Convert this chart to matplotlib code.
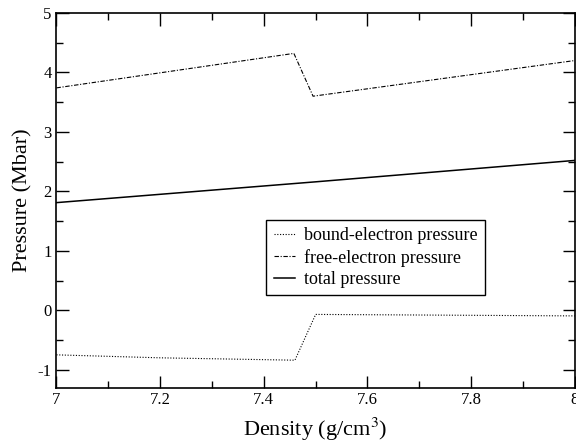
import numpy as np
import matplotlib.pyplot as plt
from matplotlib.ticker import MultipleLocator

plt.rcParams['font.family'] = ['Liberation Serif', 'DejaVu Serif']
plt.rcParams['mathtext.fontset'] = 'stix'

# data
dens_bound = [7.0, 7.2, 7.46, 7.5, 8.0]
p_bound = [-0.75, -0.80, -0.84, -0.07, -0.095]

dens_free = [7.0, 7.458, 7.495, 8.0]
p_free = [3.74, 4.32, 3.60, 4.20]

dens_total = [7.0, 7.5, 8.0]
p_total = [1.81, 2.16, 2.52]

fig = plt.figure(figsize=(5.76, 4.47), dpi=100)
ax = fig.add_axes([0.098, 0.133, 0.9, 0.838])

ax.plot(dens_bound, p_bound, color='black', lw=0.8, linestyle=(0, (1, 1.5)),
        label='bound-electron pressure')
ax.plot(dens_free, p_free, color='black', lw=0.8, linestyle=(0, (4, 1.5, 1, 1.5)),
        label='free-electron pressure')
ax.plot(dens_total, p_total, color='black', lw=1.1, label='total pressure')

ax.set_xlim(7, 8)
ax.set_ylim(-1.3, 5)
ax.xaxis.set_minor_locator(MultipleLocator(0.1))
ax.yaxis.set_minor_locator(MultipleLocator(0.5))
ax.set_xticks([7, 7.2, 7.4, 7.6, 7.8, 8])
ax.set_xticklabels(['7', '7.2', '7.4', '7.6', '7.8', '8'])
ax.set_yticks([-1, 0, 1, 2, 3, 4, 5])
ax.set_yticklabels(['-1', '0', '1', '2', '3', '4', '5'])
ax.tick_params(which='both', direction='in', top=True, right=True, labelsize=12)
ax.tick_params(which='major', length=9, width=1)
ax.tick_params(which='minor', length=5, width=1)
for s in ax.spines.values():
    s.set_linewidth(1.2)

ax.set_xlabel('Density (g/cm$^3$)', fontsize=16, labelpad=5)
ax.set_ylabel('Pressure (Mbar)', fontsize=16)

leg = ax.legend(loc='upper left', bbox_to_anchor=(0.405, 0.447), borderaxespad=0,
                fontsize=13, frameon=True, fancybox=False, edgecolor='black',
                framealpha=1, handlelength=1.2, handletextpad=0.5,
                borderpad=0.4, labelspacing=0.25)
leg.get_frame().set_linewidth(1.0)

fig.savefig('out.png', dpi=100)
